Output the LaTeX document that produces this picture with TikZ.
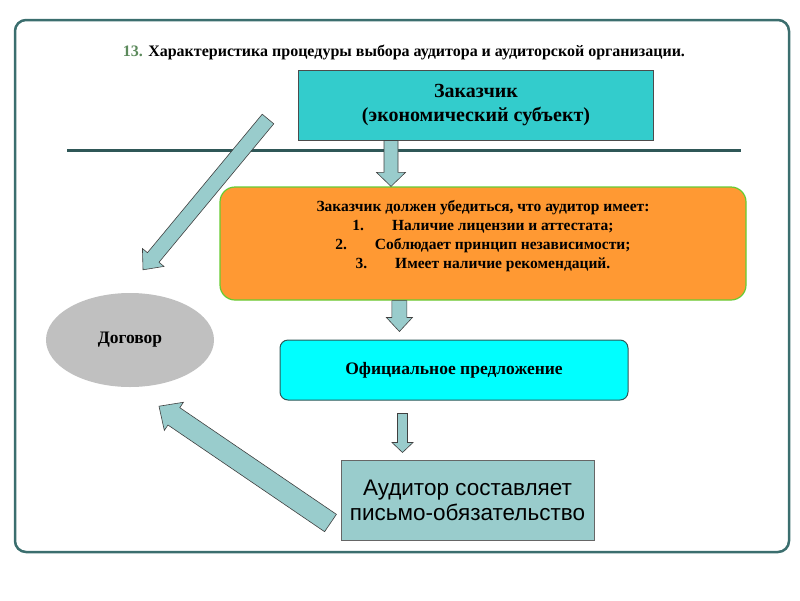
\documentclass[tikz,border=0pt]{standalone}
\usepackage{fontspec}
\setmainfont{Liberation Serif}
\setsansfont{Liberation Sans}
\usepackage{tikz}
\usetikzlibrary{calc,shapes,positioning}

\definecolor{zakcol}{HTML}{33CCCC}
\definecolor{arrcol}{HTML}{99CCCC}
\definecolor{orangecol}{HTML}{FF9933}
\definecolor{greenedge}{HTML}{66CC33}
\definecolor{cyancol}{HTML}{00FFFF}
\definecolor{framecol}{HTML}{3B6E6E}
\definecolor{linecol}{HTML}{2F5757}
\definecolor{dogcol}{HTML}{C0C0C0}
\definecolor{titlegreen}{HTML}{5C8A5C}

% block arrow: tail, tip, half shaft, half head, head length
\newcommand{\blockarr}[5]{%
	\coordinate (h) at ($(#2)!#5!(#1)$);
	\filldraw[blockarrow] ($(#1)!#3!90:(#2)$) -- ($(h)!#3!90:(#2)$) -- ($(h)!#4!90:(#2)$) -- (#2)
		-- ($(h)!#4!-90:(#2)$) -- ($(h)!#3!-90:(#2)$) -- ($(#1)!#3!-90:(#2)$) -- cycle;
}

\begin{document}
\begin{tikzpicture}[x=1pt,y=-1pt,
		blockarrow/.style={fill=arrcol, draw=black!75, line width=0.6pt, line join=miter},
		boxtext/.style={align=center, inner sep=0pt, font=\bfseries}]
		\useasboundingbox (0,0) rectangle (800,600);
		
		% frame
		\draw[framecol, line width=2.5pt, rounded corners=11pt] (15,20) rectangle (789,552);
		
		\node[font=\bfseries\fontsize{16}{18}\selectfont] (title) at (404,52) {{\color{titlegreen}13.} Характеристика процедуры выбора аудитора и аудиторской организации.};
		
		\draw[linecol, line width=3pt] (67,150) -- (741,150);
		
		\node[boxtext, fill=zakcol, draw=black!70, line width=1pt, minimum width=355pt, minimum height=70pt,
			font=\bfseries\fontsize{20}{24}\selectfont] (zak) at (476,105) {Заказчик\\(экономический субъект)};
		
		\node[boxtext, fill=orangecol, draw=greenedge, line width=1.2pt, rounded corners=15pt, minimum width=526pt, minimum height=113pt,
			font=\bfseries\fontsize{15.5}{19}\selectfont] (req) at (483,243.5) {Заказчик должен убедиться, что аудитор имеет:\\
			1.\hspace{1.8em}Наличие лицензии и аттестата;\\
			2.\hspace{1.8em}Соблюдает принцип независимости;\\
			3.\hspace{1.8em}Имеет наличие рекомендаций.\\ ~};
		
		\node[boxtext, fill=cyancol, draw=linecol, line width=1pt, rounded corners=8pt, minimum width=348pt, minimum height=60pt,
			font=\bfseries\fontsize{17.5}{20}\selectfont] (off) at (454,370) {Официальное предложение};
		
		\node[boxtext, fill=arrcol, draw=black!60, line width=1pt, minimum width=253pt, minimum height=80pt,
			font=\sffamily\fontsize{22.5}{25}\selectfont] (aud) at (467.5,500) {Аудитор составляет\\письмо-обязательство};
		
		\node[ellipse, fill=dogcol, minimum width=168pt, minimum height=94pt, inner sep=0pt,
			font=\bfseries\fontsize{17.5}{20}\selectfont] (dog) at (130,340) {Договор};
		
		% arrow ends
		\coordinate (a1s) at ($(zak.south west)+(93,0)$);
		\coordinate (a1e) at (a1s |- req.north);
		\coordinate (a2s) at ($(req.south west)+(180,0)$);
		\coordinate (a2e) at ($(a2s |- off.north)+(0,-8)$);
		\coordinate (a3s) at ($(off.south west)+(123,13)$);
		\coordinate (a3e) at ($(a3s |- aud.north)+(0,-7)$);
		\coordinate (a4s) at ($(zak.west)+(-30,14)$);
		\coordinate (a4e) at ($(dog.north)+(13,-23)$);
		\coordinate (a5s) at ($(aud.west)+(-10,23)$);
		\coordinate (a5e) at ($(dog.south)+(29,19)$);
		
		\blockarr{a1s}{a1e}{7pt}{14.5pt}{14pt}
		\blockarr{a2s}{a2e}{7.5pt}{13pt}{14pt}
		\blockarr{a3s}{a3e}{5pt}{10.5pt}{10pt}
		\blockarr{a4s}{a4e}{7.5pt}{14pt}{16pt}
		\blockarr{a5s}{a5e}{10.5pt}{17pt}{18pt}
	\end{tikzpicture}
\end{document}
